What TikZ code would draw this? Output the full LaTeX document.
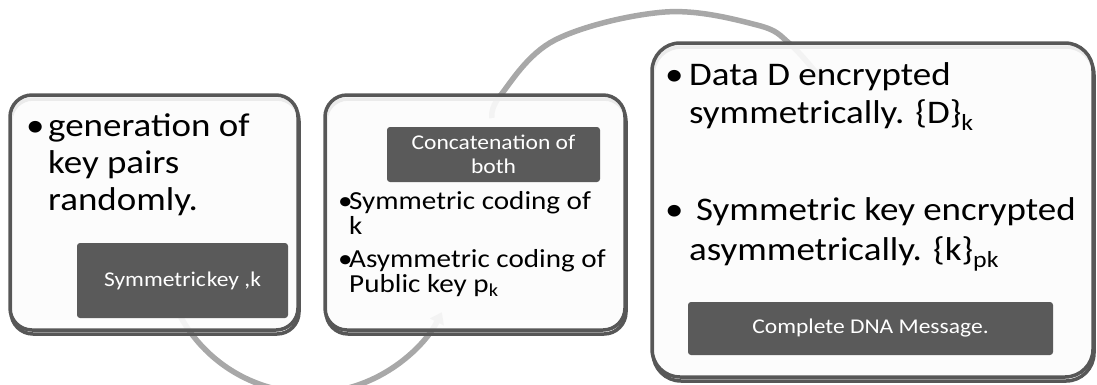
\documentclass[tikz,border=0pt]{standalone}
\usepackage{fontspec}
\usepackage{graphicx}
\setmainfont{Carlito}
\usetikzlibrary{arrows.meta}
\definecolor{boxline}{HTML}{575757}
\definecolor{darkfill}{HTML}{5A5A5A}
\definecolor{arcgray}{HTML}{A8A8A8}
\definecolor{panelfill}{HTML}{FCFCFC}
\newcommand\wx[1]{\scalebox{1.12}[1]{#1}}
\begin{document}
\begin{tikzpicture}[x=1pt,y=-1pt,
  panel/.style={draw=boxline, line width=3.5pt, fill=panelfill, fill opacity=0.9, draw opacity=1, text opacity=1, rounded corners=22pt, inner sep=0pt},
  panelshadow/.style={draw=boxline, line width=3.5pt, rounded corners=22pt, inner sep=0pt},
  darkbox/.style={fill=darkfill, rounded corners=3pt, text=white, align=center, inner sep=0pt, font=\fontsize{21}{24}\selectfont},
  bigtext/.style={anchor=base west, inner sep=0pt, font=\fontsize{33}{37}\selectfont},
  midtext/.style={anchor=base west, inner sep=0pt, font=\fontsize{26}{28}\selectfont},
  arcline/.style={draw=arcgray, line width=5.5pt, -{Triangle[width=15pt,length=11pt]}}
]
\useasboundingbox (0,0) rectangle (1097,384);
% arcs (behind the panels)
\coordinate (lc) at (310,245);
\draw[arcline] (lc) ++(205:148pt) arc[start angle=205, end angle=333, radius=148pt];
\coordinate (u0) at (492,118);
\coordinate (u1) at (500,96);
\coordinate (u2) at (555,40);
\coordinate (u3) at (665,12);
\coordinate (u4) at (757,25);
\coordinate (u5) at (790,44);
\coordinate (u6) at (822,80);
\draw[arcline] plot[smooth, tension=0.6] coordinates {(u0) (u1) (u2) (u3) (u4) (u5) (u6)};
% shadows
\node[panelshadow, minimum width=288pt, minimum height=235pt] (s1) at (155,216.5) {};
\node[panelshadow, minimum width=300pt, minimum height=235pt] (s2) at (476,216.5) {};
\node[panelshadow, rounded corners=28pt, minimum width=441pt, minimum height=334pt] (s3) at (873.5,214) {};
% panels
\node[panel, minimum width=288pt, minimum height=235pt] (p1) at (154,212.5) {};
\node[panel, minimum width=300pt, minimum height=235pt] (p2) at (475,212.5) {};
\node[panel, rounded corners=28pt, minimum width=441pt, minimum height=334pt] (p3) at (872.5,210) {};
% dark boxes
\node[darkbox, minimum width=211pt, minimum height=75pt] (d1) at (182.5,280.5) {\wx{Symmetric\hspace{1pt}key ,k}};
\node[darkbox, minimum width=213pt, minimum height=55pt] (d2) at (493.5,154.5) {\wx{Concatenation of}\\\wx{both}};
\node[darkbox, minimum width=365pt, minimum height=53pt] (d3) at (870.5,328.5) {\wx{Complete DNA Message.}};
% box 1 text
\node[bigtext] (b1) at (26,136) {\wx{•}};
\node[bigtext] (t1a) at (48,136) {\wx{generation of}};
\node[bigtext] (t1b) at (48,173) {\wx{key pairs}};
\node[bigtext] (t1c) at (48,210) {\wx{randomly.}};
% box 2 text
\node[midtext] (b2a) at (338,209) {\wx{•}};
\node[midtext] (t2a) at (349,209) {\wx{Symmetric coding of}};
\node[midtext] (t2b) at (349,234) {\wx{k}};
\node[midtext] (b2b) at (338,267) {\wx{•}};
\node[midtext] (t2c) at (349,267) {\wx{Asymmetric coding of}};
\node[midtext] (t2d) at (349,292) {\wx{Public key p\textsubscript{k}}};
% box 3 text
\node[bigtext] (b3a) at (665,85) {\wx{•}};
\node[bigtext] (t3a) at (689,85) {\wx{Data D encrypted}};
\node[bigtext] (t3b) at (689,123) {\wx{symmetrically. \{D\}\textsubscript{k}}};
\node[bigtext] (b3b) at (665,220) {\wx{•}};
\node[bigtext] (t3c) at (696,220) {\wx{Symmetric key encrypted}};
\node[bigtext] (t3d) at (689,260) {\wx{asymmetrically. \{k\}\textsubscript{pk}}};
\end{tikzpicture}
\end{document}
